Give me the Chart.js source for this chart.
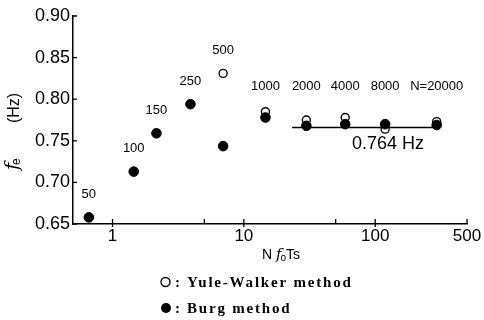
<!DOCTYPE html>
<html>
<head>
<meta charset="utf-8">
<script src="https://cdn.jsdelivr.net/npm/chart.js@4/dist/chart.umd.min.js"></script>
<style>
  html, body { margin: 0; padding: 0; background: #fff; }
</style>
</head>
<body>
<canvas id="chart" width="484" height="320"></canvas>
<script>
// Datos
const nLabels = ['50', '100', '150', '250', '500', '1000', '2000', '4000', '8000', 'N=20000'];
const nfoTs = [0.66, 1.45, 2.16, 3.92, 6.95, 14.6, 29.9, 59.1, 119, 294];
const burgFe = [0.658, 0.713, 0.759, 0.794, 0.7436, 0.778, 0.768, 0.770, 0.770, 0.769];
const yuleFe = [null, null, null, null, 0.831, 0.785, 0.775, 0.778, 0.764, 0.773];
const meanX = [23.3, 312];
const meanFe = 0.766;
const meanLabel = '0.764 Hz';
const xTicks = [1, 5, 10, 50, 100, 500];
const xTickLabels = ['1', '', '10', '', '100', '500'];
const yTicks = [0.65, 0.70, 0.75, 0.80, 0.85, 0.90];

const pts = ys => nfoTs.map((x, i) => ({ x: x, y: ys[i] })).filter(p => p.y !== null);

const decor = {
  id: 'decor',
  afterDraw(chart) {
    const ctx = chart.ctx;
    const xs = chart.scales.x, ys = chart.scales.y;
    const x0 = xs.left, y0 = ys.bottom;
    ctx.save();
    ctx.strokeStyle = '#000';
    ctx.fillStyle = '#000';
    ctx.lineWidth = 1.3;

    // marcas hacia dentro
    ctx.beginPath();
    yTicks.forEach(v => {
      const y = ys.getPixelForValue(v);
      ctx.moveTo(x0, y); ctx.lineTo(x0 + 4, y);
    });
    xTicks.forEach((v, i) => {
      const x = xs.getPixelForValue(v);
      ctx.moveTo(x, y0 - 5);
      ctx.lineTo(x, xTickLabels[i] && v < 500 ? y0 + 3 : y0);
    });
    ctx.stroke();

    // etiquetas N
    ctx.font = '13px "Liberation Sans"';
    ctx.textAlign = 'center';
    ctx.textBaseline = 'middle';
    nLabels.forEach((t, i) => {
      const x = xs.getPixelForValue(nfoTs[i]);
      const top = Math.max(burgFe[i], yuleFe[i] || 0);
      const y = i < 5 ? ys.getPixelForValue(top) - 23 : ys.getPixelForValue(0.815);
      ctx.fillText(t, x, y);
    });

    // valor medio
    ctx.font = '18px "Liberation Sans"';
    ctx.fillText(meanLabel, xs.getPixelForValue(125), ys.getPixelForValue(meanFe) + 17);

    // titulo eje y
    ctx.save();
    ctx.translate(15, 108);
    ctx.rotate(-Math.PI / 2);
    ctx.font = '16px "Liberation Sans"';
    ctx.fillText('(Hz)', 0, 0);
    ctx.restore();
    ctx.save();
    ctx.translate(13, 162);
    ctx.rotate(-Math.PI / 2);
    ctx.textAlign = 'left';
    ctx.font = 'italic 19px "DejaVu Serif"';
    const fw = ctx.measureText('f').width;
    ctx.fillText('f', -8, 0);
    ctx.font = '12px "Liberation Sans"';
    ctx.fillText('e', -8 + fw - 2, 4);
    ctx.restore();

    // titulo eje x
    ctx.textAlign = 'left';
    let cx = 262;
    const cy = 255;
    ctx.font = '14px "Liberation Sans"';
    ctx.fillText('N ', cx, cy); cx += ctx.measureText('N ').width;
    ctx.font = 'italic 15px "DejaVu Serif"';
    ctx.fillText('f', cx, cy); cx += ctx.measureText('f').width - 1;
    ctx.font = '10px "Liberation Sans"';
    ctx.fillText('o', cx, cy + 3); cx += ctx.measureText('o').width;
    ctx.font = '14px "Liberation Sans"';
    ctx.fillText('Ts', cx, cy);

    // leyenda
    ctx.lineWidth = 1.4;
    ctx.beginPath(); ctx.arc(165.5, 282, 4.5, 0, Math.PI * 2); ctx.stroke();
    ctx.beginPath(); ctx.arc(166, 308, 5, 0, Math.PI * 2); ctx.fill();
    ctx.font = 'bold 15px "Liberation Serif"';
    ctx.textBaseline = 'alphabetic';
    ctx.fillText(':', 175, 287);
    ctx.fillText(':', 175, 313);
    ctx.letterSpacing = '1.8px';
    ctx.fillText('Yule-Walker method', 187, 287);
    ctx.fillText('Burg method', 187, 313);
    ctx.restore();
  }
};

new Chart(document.getElementById('chart'), {
  type: 'scatter',
  data: {
    datasets: [
      { label: 'Burg method', data: pts(burgFe), pointRadius: 4.8, pointBackgroundColor: '#000', pointBorderColor: '#000', borderWidth: 1 },
      { label: 'Yule-Walker method', data: pts(yuleFe), pointRadius: 4, pointBackgroundColor: '#fff', pointBorderColor: '#000', pointBorderWidth: 1.4 },
      { label: 'mean', data: meanX.map(x => ({ x: x, y: meanFe })), showLine: true, borderColor: '#000', borderWidth: 1.5, pointRadius: 0 }
    ]
  },
  options: {
    responsive: false,
    animation: false,
    layout: { padding: { left: 0, right: 17, top: 16, bottom: 0 } },
    plugins: { legend: { display: false }, tooltip: { enabled: false } },
    scales: {
      x: {
        type: 'logarithmic',
        min: 0.5,
        max: 500,
        afterBuildTicks: s => { s.ticks = xTicks.map(v => ({ value: v })); },
        afterFit: s => { s.height = 96; },
        grid: { display: false, drawTicks: false },
        border: { display: true, color: '#000', width: 1.5 },
        ticks: {
          color: '#000',
          font: { family: '"Liberation Sans"', size: 17 },
          padding: 2,
          autoSkip: false,
          maxRotation: 0,
          callback: (v, i) => xTickLabels[i]
        }
      },
      y: {
        min: 0.65,
        max: 0.90,
        afterBuildTicks: s => { s.ticks = yTicks.map(v => ({ value: v })); },
        afterFit: s => { s.width = 73; },
        grid: { display: false, drawTicks: false },
        border: { display: true, color: '#000', width: 1.5 },
        ticks: {
          color: '#000',
          font: { family: '"Liberation Sans"', size: 18 },
          padding: 3,
          callback: v => v.toFixed(2)
        }
      }
    }
  },
  plugins: [decor]
});
</script>
</body>
</html>
